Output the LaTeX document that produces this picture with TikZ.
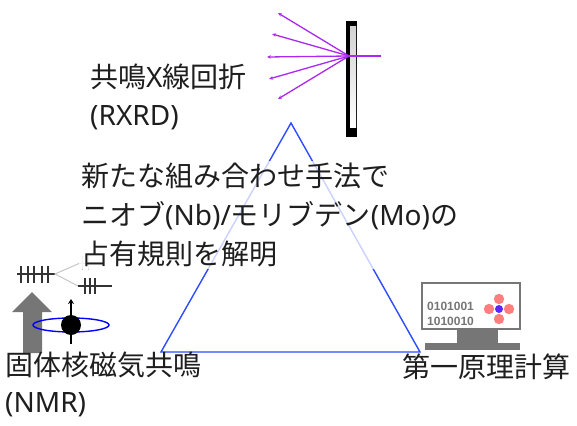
\documentclass[tikz,border=0pt]{standalone}
\usepackage{fontspec}
\setmainfont{Noto Sans CJK JP}
\newfontfamily\latin{Noto Sans}
\newfontfamily\digitfont{Liberation Sans}
\usetikzlibrary{arrows.meta}

\definecolor{rayviolet}{RGB}{170,40,240}
\definecolor{triblue}{RGB}{45,75,255}
\definecolor{textgray}{RGB}{30,30,30}
\definecolor{icongray}{RGB}{118,118,118}
\definecolor{atomred}{RGB}{255,105,105}
\definecolor{atomblue}{RGB}{90,40,255}

\tikzset{
  bigtext/.style={font=\fontsize{28}{36}\selectfont, text=textgray, align=left, inner sep=0pt},
  ray/.style={rayviolet, line width=1.3pt},
  spec/.style={line width=1.2pt, black!80},
}

\begin{document}
\begin{tikzpicture}[x=1pt, y=-1pt]
    \useasboundingbox (0,0) rectangle (577,425);

    % Triangle
    \coordinate (apex) at (291,123);
    \coordinate (baseL) at (161,352);
    \coordinate (baseR) at (420,352);
    \draw[triblue, line width=1.4pt] (apex) -- (baseR) -- (baseL) -- cycle;

    % Crystal with reflected X-rays
    \fill[black] (346,21) rectangle (357,137);
    \shade[top color=gray!35, bottom color=white] (350,27) rectangle (356,127);
    \coordinate (hit) at (349,56);
    \coordinate (src) at (381,56);
    \draw[ray] (src) -- (hit);
    \foreach \i/\x/\y in {1/278/13, 2/272/34, 3/267/57, 4/269/79, 5/278/99} {
        \coordinate (r\i) at (\x,\y);
        \draw[ray, -{Stealth[length=4pt, width=3.5pt]}] (hit) -- (r\i);
    }

    % NMR: field arrow, spinning nucleus
    \fill[icongray] (23,353) -- (23,312) -- (12,312) -- (32,292) -- (52,312)
        -- (42,312) -- (42,353) -- cycle;
    \draw[blue, line width=1.4pt] (71,325) ellipse (38 and 7);
    \coordinate (spinB) at (71,344);
    \coordinate (spinT) at (71,299);
    \draw[line width=1.8pt, -{Stealth[length=5pt, width=6pt]}] (spinB) -- (spinT);
    \fill[black] (71,325) circle (10);

    % NMR: split spectrum lines
    \coordinate (sp0) at (17,274);
    \coordinate (sp1) at (55,274);
    \coordinate (spU) at (80,263);
    \coordinate (spD) at (78,286);
    \draw[spec] (sp0) -- (sp1);
    \foreach \x in {21,28,34,42,48}
        \draw[spec] (\x,266) -- (\x,283);
    \draw[gray!45, line width=1pt] (spU) -- (sp1) -- (spD);
    \draw[gray!45, line width=1pt] (spU) -- (100,263);
    \foreach \x in {82,88}
        \draw[gray!45, line width=1pt] (\x,256) -- (\x,270);
    \draw[spec] (spD) -- (112,286);
    \foreach \x in {85,90,95}
        \draw[spec] (\x,278) -- (\x,294);

    % Monitor for first-principles calculation
    \fill[icongray] (457,329) rectangle (498,343);
    \fill[icongray] (425,343) rectangle (520,350);
    \draw[icongray, line width=1.3pt, fill=white] (422,283) rectangle (520,329);
    \node[font=\digitfont\bfseries\fontsize{12}{15}\selectfont, text=icongray,
          align=left, inner sep=0pt, anchor=west] (bits) at (427,314) {0101001\\1010010};
    \foreach \dx/\dy in {0/-10, 0/10, -10/0, 10/0}
        \fill[atomred, opacity=0.85] (499+\dx,309+\dy) circle (5.2);
    \fill[atomblue] (499,309) circle (4);

    % Labels
    \node[bigtext, anchor=north west] (rxrd) at (90,64) {共鳴{\latin X}線回折\\[2pt]{\latin(RXRD)}};
    \node[bigtext, anchor=north west, fill=white, fill opacity=0.75, text opacity=1,
          inner sep=2pt] (result) at (79,161)
          {新たな組み合わせ手法で\\[3pt]ニオブ{\latin(Nb)/}モリブデン{\latin(Mo)}の\\[3pt]占有規則を解明};
    \node[bigtext, anchor=north west] (nmr) at (5,352) {固体核磁気共鳴\\[1pt]{\latin(NMR)}};
    \node[bigtext, anchor=north west] (calc) at (402,354) {第一原理計算};
\end{tikzpicture}
\end{document}
